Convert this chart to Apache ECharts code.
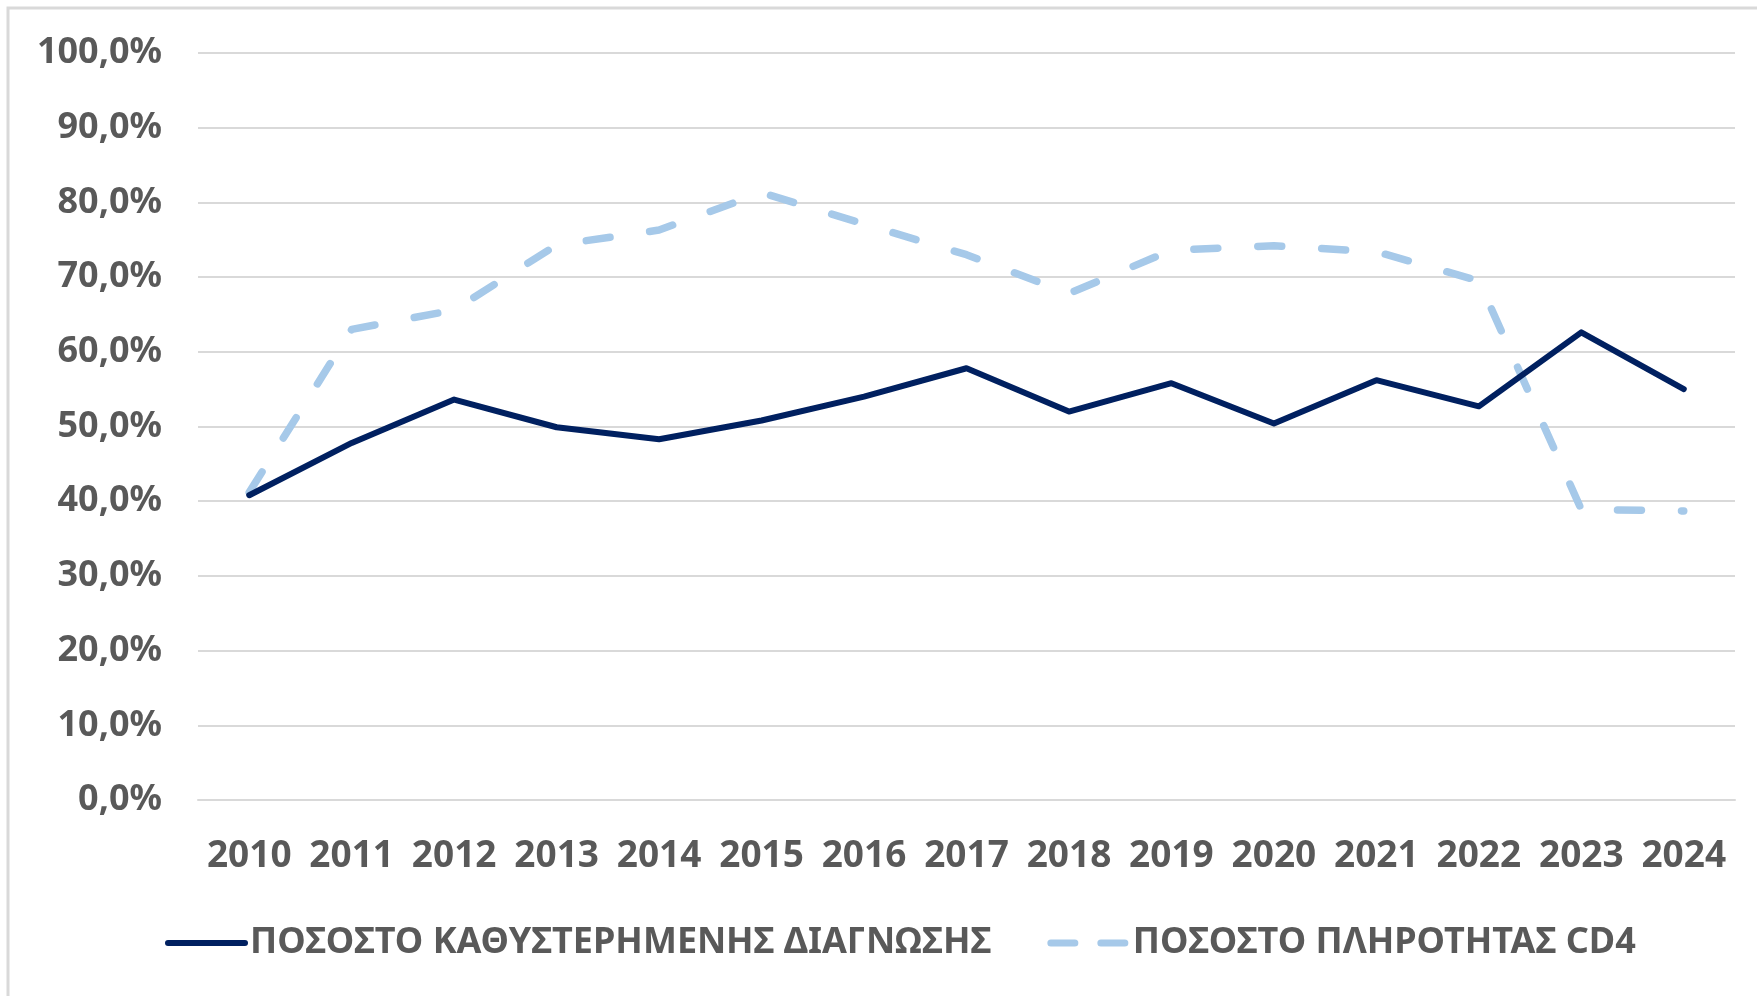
<!DOCTYPE html>
<html>
<head>
<meta charset="utf-8">
<script src="https://cdn.jsdelivr.net/npm/echarts@6/dist/echarts.min.js"></script>
<style>
  html, body { margin: 0; padding: 0; background: #fff; }
  #chart { width: 1757px; height: 996px; }
</style>
</head>
<body>
<div id="chart"></div>
<script>
// years on the x axis
const years = ['2010', '2011', '2012', '2013', '2014', '2015', '2016', '2017',
               '2018', '2019', '2020', '2021', '2022', '2023', '2024'];
// late diagnosis %
const lateDiagnosis = [40.8, 47.8, 53.6, 49.9, 48.3, 50.8, 54.0, 57.8, 52.0, 55.8, 50.4, 56.2, 52.7, 62.6, 55.0];
// CD4 completeness %
const cd4Completeness = [41.2, 63.0, 65.6, 74.3, 76.3, 81.3, 77.1, 73.0, 67.8, 73.6, 74.2, 73.4, 69.5, 38.9, 38.7];
const seriesNames = ['ΠΟΣΟΣΤΟ ΚΑΘΥΣΤΕΡΗΜΕΝΗΣ ΔΙΑΓΝΩΣΗΣ', 'ΠΟΣΟΣΤΟ ΠΛΗΡΟΤΗΤΑΣ CD4'];

const FONT = '"Noto Sans", sans-serif';
const GREY = '#595959';
const DARK = '#002060';
const LIGHT = '#a6c9e9';

const myChart = echarts.init(document.querySelector('#chart'));
myChart.setOption({
  animation: false,
  backgroundColor: '#fff',
  graphic: [{
    type: 'rect',
    z: -10,
    shape: { x: 8, y: 8, width: 1800, height: 1100 },
    style: { fill: 'none', stroke: '#d9d9d9', lineWidth: 3 }
  }],
  grid: { left: 198, right: 22, top: 53, bottom: 196 },
  legend: {
    left: 160,
    top: 920,
    itemWidth: 77,
    itemHeight: 30,
    itemGap: 56,
    itemStyle: { opacity: 0 },
    textStyle: { fontFamily: FONT, fontWeight: 'bold', fontSize: 36, color: GREY },
    data: [
      { name: seriesNames[0], lineStyle: { width: 6, color: DARK, cap: 'round' } },
      { name: seriesNames[1], lineStyle: { width: 7, color: LIGHT, type: [24, 26], cap: 'round' } }
    ]
  },
  xAxis: {
    type: 'category',
    data: years,
    boundaryGap: true,
    axisLine: { lineStyle: { color: '#d9d9d9', width: 2 } },
    axisTick: { show: false },
    axisLabel: { margin: 38, fontFamily: FONT, fontWeight: 'bold', fontSize: 37, color: GREY, interval: 0 }
  },
  yAxis: {
    type: 'value',
    min: 0,
    max: 100,
    interval: 10,
    axisLine: { show: false },
    axisTick: { show: false },
    splitLine: { lineStyle: { color: '#d9d9d9', width: 2 } },
    axisLabel: {
      margin: 36,
      fontFamily: FONT, fontWeight: 'bold', fontSize: 36, color: GREY,
      formatter: v => v.toFixed(1).replace('.', ',') + '%'
    }
  },
  series: [{
    name: seriesNames[0],
    type: 'line',
    data: lateDiagnosis,
    symbol: 'none',
    z: 3,
    lineStyle: { color: DARK, width: 6, join: 'round', cap: 'round' },
    itemStyle: { color: DARK }
  }, {
    name: seriesNames[1],
    type: 'line',
    data: cd4Completeness,
    symbol: 'none',
    z: 2,
    lineStyle: { color: LIGHT, width: 7.5, type: [24, 40], cap: 'round', join: 'round' },
    itemStyle: { color: LIGHT }
  }]
});
</script>
</body>
</html>
